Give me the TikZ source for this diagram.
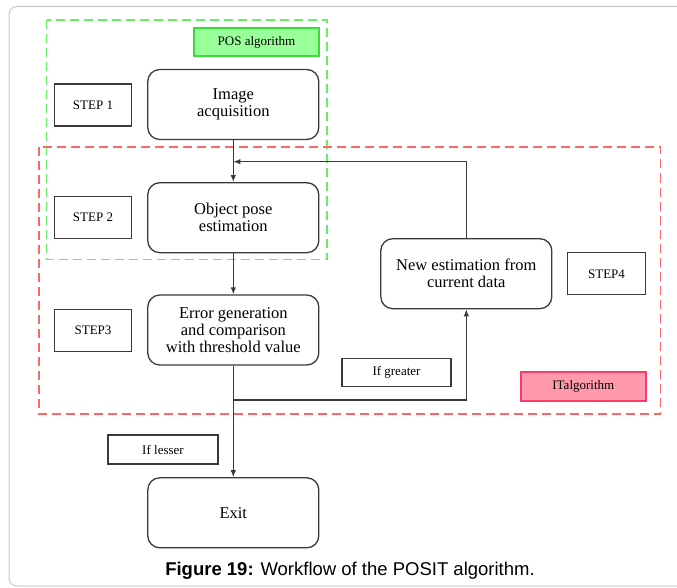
\documentclass[tikz,border=0pt]{standalone}
\usepackage{fontspec}
\setmainfont{Liberation Serif}
\newfontfamily\capfont{Liberation Sans}
\usetikzlibrary{arrows.meta}
\definecolor{boxline}{HTML}{3A3A3A}
\definecolor{framegray}{HTML}{C8C8C8}
\definecolor{greendash}{HTML}{66EE66}
\definecolor{reddash}{HTML}{FF6666}
\definecolor{posfill}{HTML}{99FF99}
\definecolor{posline}{HTML}{33E033}
\definecolor{itfill}{HTML}{FF99AC}
\definecolor{itline}{HTML}{FF3A6A}
\begin{document}
\begin{tikzpicture}[x=1pt,y=-1pt,
  proc/.style={draw=boxline, line width=1.3pt, rounded corners=12pt,
    minimum width=171pt, minimum height=70pt, align=center, inner sep=0pt,
    fill=white, font=\fontsize{16.5}{17}\selectfont},
  lab/.style={draw=boxline, line width=1.1pt, inner sep=0pt, fill=white,
    font=\fontsize{13}{15}\selectfont},
  tagbox/.style={line width=2.4pt, inner sep=0pt, minimum width=125pt,
    minimum height=28pt, font=\fontsize{13}{15}\selectfont},
  region/.style={dash pattern=on 9pt off 5pt, line width=1.5pt},
  conn/.style={draw=boxline, line width=1.2pt},
  arr/.style={conn, -{Latex[length=7pt,width=5.5pt]}}]
\useasboundingbox (0,0) rectangle (677,588);
% outer frame
\draw[framegray, line width=1pt, rounded corners=8pt]
  (677,6.5) -- (9,6.5) -- (9,586) -- (677,586);
% regions
\draw[region, greendash] (46.5,20) rectangle (327,259.5);
\draw[region, reddash] (39,147) rectangle (660.5,414);
% tags
\node[tagbox, draw=posline, fill=posfill] (pos) at (256.5,42) {POS algorithm};
\node[tagbox, draw=itline, fill=itfill, minimum height=29pt] (ita) at (583.3,386.7) {ITalgorithm};
% process boxes
\node[proc] (img) at (233.3,104.5) {Image\\acquisition};
\node[proc] (obj) at (233.3,217.7) {Object pose\\estimation};
\node[proc] (err) at (233.3,330) {Error generation\\and comparison\\with threshold value};
\node[proc] (newe) at (466.3,273.7) {New estimation from\\current data};
\node[proc] (exit) at (233.3,512.8) {Exit};
% step labels
\node[lab, minimum width=77pt, minimum height=42pt] (s1) at (93,105) {STEP 1};
\node[lab, minimum width=77pt, minimum height=42pt] (s2) at (93,217.3) {STEP 2};
\node[lab, minimum width=77pt, minimum height=42pt] (s3) at (93,330.3) {STEP3};
\node[lab, minimum width=78pt, minimum height=42pt] (s4) at (606.5,273.8) {STEP4};
\node[lab, minimum width=109pt, minimum height=28.5pt] (gt) at (396.5,372.3) {If greater};
\node[lab, minimum width=110pt, minimum height=29pt] (ls) at (163,449.5) {If lesser};
% connectors
\coordinate (fb) at (233.3,161.7);
\coordinate (br) at (233.3,400);
\draw[arr] (img.south) -- (obj.north);
\draw[arr] (newe.north) |- (fb);
\draw[arr] (obj.south) -- (err.north);
\draw[conn] (err.south) -- (br);
\draw[arr] (br) -| (newe.south);
\draw[arr] (br) -- (exit.north);
% caption
\node[font=\capfont\fontsize{18.5}{20}\selectfont, anchor=base, inner sep=0pt] (cap) at (350,575.7)
  {\textbf{Figure 19:} Workflow of the POSIT algorithm.};
\end{tikzpicture}
\end{document}
